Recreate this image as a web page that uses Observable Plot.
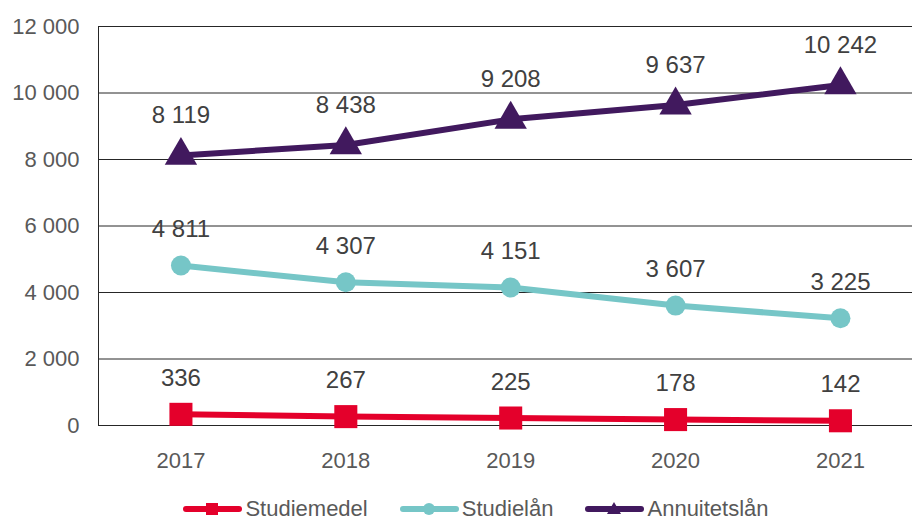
<!DOCTYPE html>
<html><head><meta charset="utf-8">
<script src="https://cdn.jsdelivr.net/npm/d3@7"></script>
<script src="https://cdn.jsdelivr.net/npm/@observablehq/plot@0.6"></script>
<style>
body{margin:0;background:#fff;font-family:"Liberation Sans",Arial,sans-serif;}
#chart svg{display:block;}
#legend{display:flex;justify-content:center;gap:32px;font-size:22px;line-height:24px;color:#595959;padding-top:7px;padding-left:40px;}
#legend .item{display:flex;align-items:center;}
#legend svg{display:block;margin-right:3px;}
</style></head>
<body><div id="chart"></div><div id="legend"></div>
<script>
const years = [2017, 2018, 2019, 2020, 2021];
const studiemedel = [336, 267, 225, 178, 142];
const studielan = [4811, 4307, 4151, 3607, 3225];
const annuitetslan = [8119, 8438, 9208, 9637, 10242];
const seriesNames = ["Studiemedel", "Studielån", "Annuitetslån"];
const seriesColors = ["#E4002B", "#76C6C7", "#41195E"];
const seriesSymbols = ["square", "circle", "triangle"];
const seriesR = [13, 10, 12];
const labelDy = [-36, -36, -40];
const yTicks = [0, 2000, 4000, 6000, 8000, 10000, 12000];

const fmt = d3.formatLocale({decimal: ",", thousands: " ", grouping: [3], currency: ["", ""]}).format(",d");
const allValues = [studiemedel, studielan, annuitetslan];
const data = [];
allValues.forEach((vals, i) => vals.forEach((v, j) => data.push({year: years[j], value: v, series: seriesNames[i], idx: i})));

const marks = [
  Plot.ruleY(yTicks, {stroke: "#262626", strokeWidth: 1}),
  Plot.ruleX([2016.5], {y1: 0, y2: 12000, stroke: "#262626", strokeWidth: 1}),
  Plot.axisY({ticks: yTicks, tickSize: 0, tickPadding: 19, tickFormat: fmt, fontSize: 22, fill: "#595959", label: null}),
  Plot.axisX({ticks: years, tickSize: 0, tickPadding: 27, tickFormat: d => String(d), fontSize: 22, fill: "#595959", label: null})
];
seriesNames.forEach((name, i) => {
  const d = data.filter(e => e.idx === i);
  marks.push(Plot.line(d, {x: "year", y: "value", stroke: seriesColors[i], strokeWidth: 6}));
  marks.push(Plot.dot(d, {x: "year", y: "value", symbol: () => seriesSymbols[i], r: seriesR[i], fill: seriesColors[i], stroke: "none"}));
  marks.push(Plot.text(d, {x: "year", y: "value", text: e => fmt(e.value), dy: labelDy[i], fontSize: 24, fill: "#404040"}));
});

const chart = Plot.plot({
  width: 912, height: 490,
  marginLeft: 98, marginRight: 0, marginTop: 26, marginBottom: 65,
  style: {fontFamily: "Liberation Sans, Arial, sans-serif", background: "#fff"},
  x: {type: "linear", domain: [2016.5, 2021.437]},
  y: {domain: [0, 12000]},
  marks
});
document.getElementById("chart").appendChild(chart);

const legend = document.getElementById("legend");
seriesNames.forEach((name, i) => {
  const s = document.createElement("span");
  s.className = "item";
  const c = seriesColors[i];
  let marker = "";
  if (i === 0) marker = `<rect x="23" y="5" width="12" height="12" fill="${c}"/>`;
  else if (i === 1) marker = `<circle cx="29" cy="11" r="6" fill="${c}"/>`;
  else marker = `<path d="M29,4 L36,16 L22,16 Z" fill="${c}"/>`;
  s.innerHTML = `<svg width="59" height="22"><line x1="3" y1="11" x2="56" y2="11" stroke="${c}" stroke-width="6" stroke-linecap="round"/>${marker}</svg><span>${name}</span>`;
  legend.appendChild(s);
});
</script></body></html>
